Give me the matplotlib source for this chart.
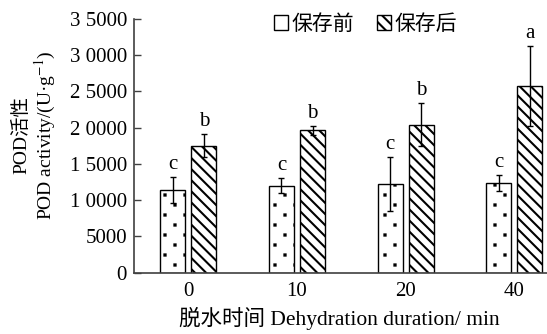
"""
POD activity before / after storage at different dehydration durations.
"""

import numpy as np
import matplotlib
matplotlib.use('Agg')
import matplotlib.pyplot as plt
import matplotlib.hatch as mhatch
from matplotlib.path import Path
from matplotlib.patches import Patch
from matplotlib.ticker import FuncFormatter

# Data
durations = ['0', '10', '20', '40']
before_vals = [11400, 12000, 12200, 12400]
before_err = [1800, 1000, 3700, 1100]
after_vals = [17500, 19600, 20400, 25700]
after_err = [1600, 600, 3000, 5500]
before_letters = ['c', 'c', 'c', 'c']
after_letters = ['b', 'b', 'b', 'a']
series_names = ['保存前', '保存后']

plt.rcParams['font.family'] = ['Liberation Serif', 'Noto Sans CJK SC']
plt.rcParams['mathtext.fontset'] = 'stix'
plt.rcParams['hatch.linewidth'] = 1.5


class SparseDots(mhatch.HatchPatternBase):
    """Staggered small dots, sparser than the built-in '.' pattern."""
    grid = 10      # cells per hatch unit
    size = 0.006   # half side of a dot, in hatch units

    def __init__(self, hatch, density):
        self.on = hatch.count('.') > 0
        n = self.grid * self.grid // 2
        self.num_vertices = n * 5 if self.on else 0

    def set_vertices_and_codes(self, vertices, codes):
        step = 1.0 / self.grid
        s = self.size
        k = 0
        for i in range(self.grid):
            for j in range(self.grid):
                if (i + j) % 2:
                    continue
                cx, cy = (i + 0.5) * step, (j + 0.5) * step
                vertices[k:k + 5] = [(cx - s, cy - s), (cx + s, cy - s),
                                     (cx + s, cy + s), (cx - s, cy + s),
                                     (cx - s, cy - s)]
                codes[k:k + 5] = [Path.MOVETO, Path.LINETO, Path.LINETO,
                                  Path.LINETO, Path.CLOSEPOLY]
                k += 5


mhatch._hatch_types = [SparseDots if t is mhatch.SmallFilledCircles else t
                       for t in mhatch._hatch_types]


def _fmt_tick(v, pos):
    v = int(round(v))
    if v >= 10000:
        return f'{v // 10000} {v % 10000:04d}'
    return f'{v}'


fig = plt.figure(figsize=(5.47, 3.34), dpi=100)
ax = fig.add_axes([0.245, 0.1835, 0.755, 0.7605])

x = np.arange(len(durations))
w = 0.23
off = 0.143

b1 = ax.bar(x - off, before_vals, width=w, color='white', edgecolor='black',
            linewidth=1.0, hatch='.', label=series_names[0])
b2 = ax.bar(x + off, after_vals, width=w, color='white', edgecolor='black',
            linewidth=1.0, hatch='\\\\\\', label=series_names[1])
ax.errorbar(x - off, before_vals, yerr=before_err, fmt='none', ecolor='black',
            elinewidth=1.0, capsize=2.5, capthick=1.0)
ax.errorbar(x + off, after_vals, yerr=after_err, fmt='none', ecolor='black',
            elinewidth=1.0, capsize=2.5, capthick=1.0)

for i in range(len(durations)):
    ax.text(x[i] - off, before_vals[i] + before_err[i] + 400, before_letters[i],
            ha='center', va='bottom', fontsize=15)
    ax.text(x[i] + off, after_vals[i] + after_err[i] + 400, after_letters[i],
            ha='center', va='bottom', fontsize=15)

ax.set_xlim(-0.5, 3.3)
ax.set_ylim(0, 35000)
ax.set_yticks(np.arange(0, 35001, 5000))
ax.yaxis.set_major_formatter(FuncFormatter(_fmt_tick))
ax.set_xticks(x)
ax.set_xticklabels(durations)
ax.tick_params(axis='y', direction='in', length=5, width=1.0, labelsize=15,
               pad=5, color='#404040')
ax.tick_params(axis='x', length=0, labelsize=15, pad=7)

for side in ['top', 'right']:
    ax.spines[side].set_visible(False)
for side in ['left', 'bottom']:
    ax.spines[side].set_linewidth(1.2)
    ax.spines[side].set_color('#404040')

# plain box for the first legend entry, as in the original
h_before = Patch(facecolor='white', edgecolor='black', linewidth=1.0,
                 label=series_names[0])
fig.legend(handles=[h_before, b2], loc='center left',
           bbox_to_anchor=(0.500, 0.925), ncol=2, frameon=False, fontsize=15,
           handlelength=0.7, handleheight=0.7, handletextpad=0.15,
           columnspacing=1.1, borderaxespad=0, borderpad=0)

fig.text(0.040, 0.596, 'POD活性', rotation=90, ha='center', va='center',
         fontsize=14)
fig.text(0.084, 0.596, 'POD activity/(U·g$^{-1}$)', rotation=90,
         ha='center', va='center', fontsize=14)
fig.text(0.62, 0.048, '脱水时间 Dehydration duration/ min', ha='center',
         va='center', fontsize=15.5)

fig.savefig('out.png', dpi=100, facecolor='white')
